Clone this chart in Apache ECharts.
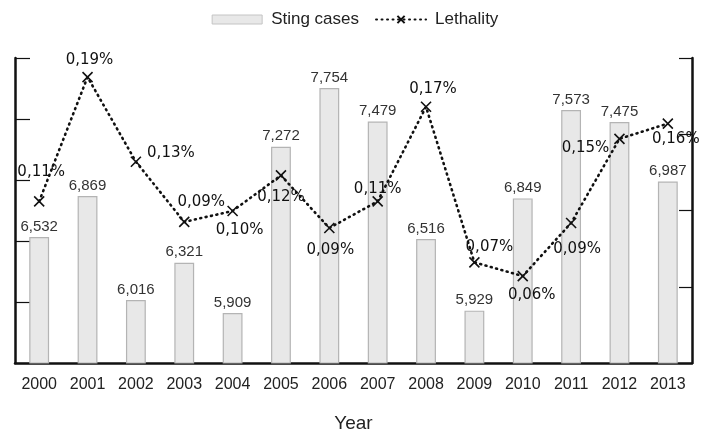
<!DOCTYPE html>
<html><head><meta charset="utf-8">
<script src="https://cdn.jsdelivr.net/npm/echarts@6/dist/echarts.min.js"></script>
<style>html,body{margin:0;padding:0;background:#fff}#c{width:710px;height:438px}</style>
</head><body><div id="c"></div>
<script>
const years = ['2000','2001','2002','2003','2004','2005','2006','2007','2008','2009','2010','2011','2012','2013'];
const stingCases = [6532,6869,6016,6321,5909,7272,7754,7479,6516,5929,6849,7573,7475,6987];
const lethality = [0.106,0.1875,0.132,0.0925,0.0997,0.123,0.0885,0.106,0.168,0.066,0.057,0.0918,0.147,0.157];
// label placement offsets (style only)
const lethLabelOffsets = [[2,-29],[2,-17],[35,-9],[17,-20],[7,19],[0,22],[1,22],[0,-12],[7,-18],[15,-15],[9,19],[6,26],[-34,9],[8,16]];

const sans = "'Liberation Sans',Arial,sans-serif";
const chart = echarts.init(document.getElementById('c'));
const xPath = 'path://M0,0L10,10M10,0L0,10';
chart.setOption({
  animation:false,
  grid:{left:15,right:18,top:58,bottom:75,outerBoundsMode:'none',containLabel:false},
  legend:{
    top:6,left:'center',itemGap:16,
    textStyle:{fontFamily:sans,fontSize:17,color:'#222',padding:[0,0,0,4]},
    data:[
      {name:'Sting cases',icon:'rect',itemStyle:{color:'#e8e8e8',borderColor:'#c4c4c4',borderWidth:1}},
      {name:'Lethality'}
    ],
    itemWidth:50,itemHeight:9
  },
  xAxis:{
    type:'category',data:years,
    axisLine:{lineStyle:{color:'#111',width:2.5}},
    axisTick:{inside:true,length:12,lineStyle:{color:'#111',width:1.2}},
    axisLabel:{fontFamily:sans,fontSize:16,color:'#222',margin:14,interval:0},
    name:'Year',nameLocation:'middle',nameGap:51,
    nameTextStyle:{fontFamily:sans,fontSize:19,color:'#222'}
  },
  yAxis:[
    {type:'value',min:5500,max:8000,interval:500,position:'left',
     axisLine:{show:true,lineStyle:{color:'#111',width:2.5}},
     axisTick:{show:true,inside:true,length:15,lineStyle:{color:'#111',width:1.2}},
     axisLabel:{show:false},splitLine:{show:false}},
    {type:'value',min:0,max:0.2,interval:0.05,position:'right',
     axisLine:{show:true,lineStyle:{color:'#111',width:2.5}},
     axisTick:{show:true,inside:true,length:13,lineStyle:{color:'#111',width:1.2}},
     axisLabel:{show:false},splitLine:{show:false}}
  ],
  series:[
    {name:'Sting cases',type:'bar',yAxisIndex:0,data:stingCases,barWidth:'41%',
     itemStyle:{color:'#e8e8e8',borderColor:'#b4b4b4',borderWidth:1.2},
     label:{show:true,position:'top',distance:3,fontFamily:sans,fontSize:15,color:'#333',
       formatter:p=>p.value.toLocaleString('en-US')}},
    {name:'Lethality',type:'line',yAxisIndex:1,
     data:lethality.map((v,i)=>({value:v,label:{offset:lethLabelOffsets[i]}})),
     symbol:xPath,symbolSize:10,showAllSymbol:true,
     lineStyle:{color:'#111',width:2.6,type:[1,4.5],cap:'round'},
     itemStyle:{color:'#111',borderColor:'#111',borderWidth:1.6},
     label:{show:true,position:'inside',fontFamily:"'DejaVu Sans',Verdana,sans-serif",fontSize:15,color:'#111',
       formatter:p=>p.value.toFixed(2).replace('.',',')+'%'},
     z:5}
  ]
});
</script></body></html>
